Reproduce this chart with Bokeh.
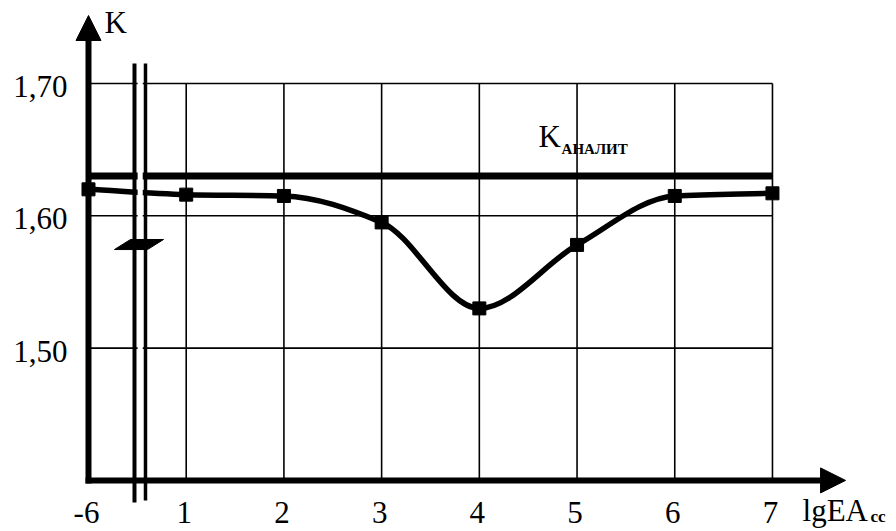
import numpy as np
from bokeh.plotting import figure
from bokeh.models import Range1d, Arrow, NormalHead, ColumnDataSource
from bokeh.core.properties import value
from bokeh.embed import file_html
from bokeh.resources import INLINE

# x positions: 0 stands for lgEA = -6 (before the axis break), then 1..7
x_pos = [0, 1, 2, 3, 4, 5, 6, 7]
x_labels = ["-6", "1", "2", "3", "4", "5", "6", "7"]
k_values = [1.620, 1.616, 1.615, 1.595, 1.530, 1.578, 1.615, 1.617]
k_analit = 1.63
y_ticks = [1.50, 1.60, 1.70]
y_labels = ["1,50", "1,60", "1,70"]
y_floor = 1.40

SERIF = value("Liberation Serif")

p = figure(width=896, height=531, output_backend="svg", toolbar_location=None,
           x_range=Range1d(-0.9006, 8.2694), y_range=Range1d(1.36138, 1.76274),
           min_border=0, x_axis_type=None, y_axis_type=None)
p.outline_line_color = None
p.grid.visible = False
p.background_fill_color = "white"
p.border_fill_color = "white"

# grid box: vertical lines at 1..7, horizontal lines at the y ticks
p.segment(x0=x_pos[1:], y0=[y_floor] * 7, x1=x_pos[1:], y1=[max(y_ticks)] * 7,
          line_color="black", line_width=1.6)
p.segment(x0=[x_pos[0]] * 3, y0=y_ticks, x1=[x_pos[-1]] * 3, y1=y_ticks,
          line_color="black", line_width=1.6)

# analytical level
p.segment(x0=[x_pos[0]], y0=[k_analit], x1=[x_pos[-1]], y1=[k_analit],
          line_color="black", line_width=7)

# smooth monotone (PCHIP-style) curve through the points, drawn as Bezier pieces
xs = np.array(x_pos, dtype=float)
ys = np.array(k_values, dtype=float)
h = np.diff(xs)
d = np.diff(ys) / h
m = np.zeros_like(ys)
for i in range(1, len(ys) - 1):
    if d[i - 1] * d[i] > 0:
        m[i] = 2.0 / (1.0 / d[i - 1] + 1.0 / d[i])
m[0] = d[0]
m[-1] = d[-1]
curve = ColumnDataSource(dict(
    x0=xs[:-1], y0=ys[:-1], x1=xs[1:], y1=ys[1:],
    cx0=xs[:-1] + h / 3, cy0=ys[:-1] + m[:-1] * h / 3,
    cx1=xs[1:] - h / 3, cy1=ys[1:] - m[1:] * h / 3,
))
p.bezier(x0="x0", y0="y0", x1="x1", y1="y1", cx0="cx0", cy0="cy0",
         cx1="cx1", cy1="cy1", source=curve, line_color="black", line_width=5.5)
p.scatter(x_pos, k_values, marker="square", size=13,
          fill_color="black", line_color="black")

# axis break between -6 and 1
brk_x, brk_y, brk_half = 0.527, 1.578, 0.0563
p.quad(left=[brk_x - 0.024], right=[brk_x + 0.028], bottom=[y_floor], top=[1.72],
       fill_color="white", line_color=None)
p.segment(x0=[brk_x - brk_half], y0=[1.7151], x1=[brk_x - brk_half], y1=[1.3833],
          line_color="black", line_width=4)
p.segment(x0=[brk_x + brk_half], y0=[1.7151], x1=[brk_x + brk_half], y1=[1.3848],
          line_color="black", line_width=3.5)
sym_dx = [-0.261, -0.097, 0.241, 0.077]
sym_dy = [-0.0035, 0.0041, 0.0041, -0.0035]
p.patch([brk_x + dx for dx in sym_dx], [brk_y + dy for dy in sym_dy],
        fill_color="black", line_color="black", line_width=1)

# axes with arrowheads
p.add_layout(Arrow(start=None, end=NormalHead(size=25, fill_color="black", line_color="black"),
                   x_start=-0.03, y_start=y_floor, x_end=7.748, y_end=y_floor,
                   line_color="black", line_width=6))
p.add_layout(Arrow(start=None, end=NormalHead(size=25, fill_color="black", line_color="black"),
                   x_start=0, y_start=y_floor - 0.0023, x_end=0, y_end=1.7514,
                   line_color="black", line_width=6))

# tick labels
p.text(x=x_pos, y=[y_floor] * len(x_pos), text=x_labels, text_font=SERIF,
       text_font_size=value("31px"), text_align="center", text_baseline="top",
       x_offset=-2, y_offset=22, text_color="black")
p.text(x=[0] * 3, y=y_ticks, text=y_labels, text_font=SERIF,
       text_font_size=value("31px"), text_align="right", text_baseline="middle",
       x_offset=-21, y_offset=3, text_color="black")

# axis titles and the level label
p.text(x=[0], y=[1.7385], text=["K"], text_font=SERIF, text_font_size=value("31px"),
       text_align="left", text_baseline="alphabetic", x_offset=16, y_offset=-10,
       text_color="black")
p.text(x=[7.308], y=[1.3697], text=["lgEA"], text_font=SERIF, text_font_size=value("31px"),
       text_align="left", text_baseline="alphabetic", y_offset=-10, text_color="black")
p.text(x=[7.308], y=[1.3697], text=["сс"], text_font=SERIF, text_font_size=value("17px"),
       text_font_style="bold", text_align="left", text_baseline="alphabetic",
       x_offset=68, y_offset=-4, text_color="black")
p.text(x=[4.606], y=[1.6524], text=["K"], text_font=SERIF, text_font_size=value("31px"),
       text_align="left", text_baseline="alphabetic", y_offset=-10, text_color="black")
p.text(x=[4.606], y=[1.6524], text=["АНАЛИТ"], text_font=SERIF, text_font_size=value("15px"),
       text_font_style="bold", text_align="left", text_baseline="alphabetic",
       x_offset=23, y_offset=3, text_color="black")

open("out.html", "w").write(file_html(p, INLINE))
